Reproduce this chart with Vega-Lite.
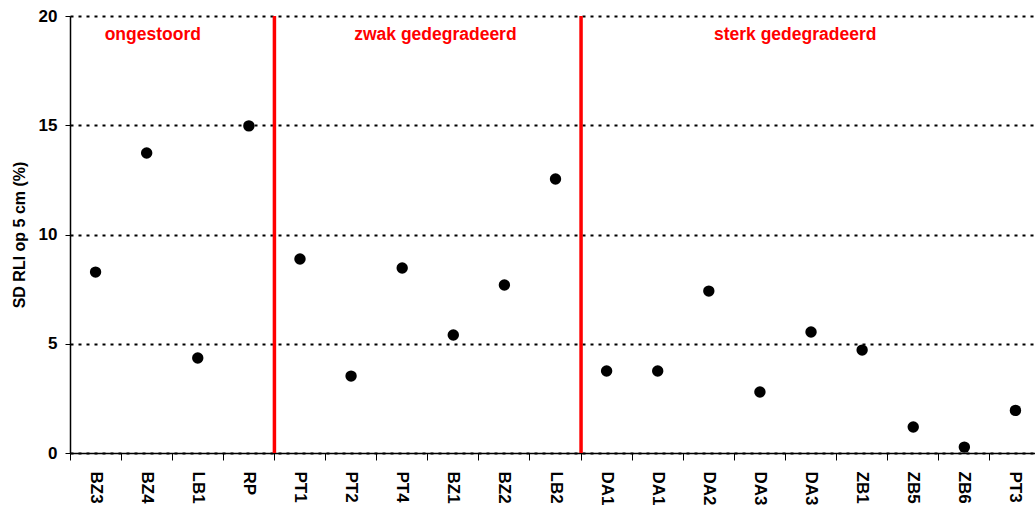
{
  "$schema": "https://vega.github.io/schema/vega-lite/v6.json",
  "autosize": "none",
  "padding": {"left": 70, "top": 16, "right": 0, "bottom": 58},
  "width": 971,
  "height": 437,
  "background": "white",
  "config": {
    "view": {"stroke": null},
    "font": "Liberation Sans"
  },
  "datasets": {
    "points": [
      {"site": "BZ3", "sd": 8.28},
      {"site": "BZ4", "sd": 13.73},
      {"site": "LB1", "sd": 4.35},
      {"site": "RP", "sd": 14.97},
      {"site": "PT1", "sd": 8.88},
      {"site": "PT2", "sd": 3.52},
      {"site": "PT4", "sd": 8.47},
      {"site": "BZ1", "sd": 5.40},
      {"site": "BZ2", "sd": 7.69},
      {"site": "LB2", "sd": 12.54},
      {"site": "DA1a", "sd": 3.75},
      {"site": "DA1b", "sd": 3.75},
      {"site": "DA2", "sd": 7.41},
      {"site": "DA3a", "sd": 2.79},
      {"site": "DA3b", "sd": 5.54},
      {"site": "ZB1", "sd": 4.71},
      {"site": "ZB5", "sd": 1.19},
      {"site": "ZB6", "sd": 0.27},
      {"site": "PT3", "sd": 1.95}
    ],
    "dividers": [
      {"site": "PT1", "lo": 0, "hi": 20},
      {"site": "DA1a", "lo": 0, "hi": 20}
    ],
    "groups": [
      {"site": "BZ4", "name": "ongestoord", "ypos": 18.9},
      {"site": "BZ1", "name": "zwak gedegradeerd", "ypos": 18.9},
      {"site": "DA3b", "name": "sterk gedegradeerd", "ypos": 18.9}
    ]
  },
  "encoding": {
    "x": {
      "field": "site",
      "type": "nominal",
      "scale": {
        "type": "band",
        "paddingInner": 0,
        "paddingOuter": 0,
        "domain": ["BZ3","BZ4","LB1","RP","PT1","PT2","PT4","BZ1","BZ2","LB2","DA1a","DA1b","DA2","DA3a","DA3b","ZB1","ZB5","ZB6","PT3"]
      },
      "axis": {
        "title": null,
        "bandPosition": 0,
        "labelExpr": "substring(datum.label, 0, 3)",
        "labelAngle": 90,
        "labelAlign": "left",
        "labelBaseline": "middle",
        "labelFont": "Liberation Sans",
        "labelFontSize": 17,
        "labelFontWeight": "bold",
        "labelColor": "black",
        "labelPadding": 11,
        "labelOffset": 0,
        "tickSize": 7,
        "tickColor": "black",
        "tickWidth": 1,
        "domainColor": "black",
        "domainWidth": 1.5,
        "grid": false
      }
    }
  },
  "layer": [
    {
      "data": {"name": "points"},
      "mark": {"type": "point", "filled": true, "color": "black", "size": 130, "opacity": 1},
      "encoding": {
        "x": {"field": "site", "type": "nominal", "bandPosition": 0.5},
        "y": {
          "field": "sd",
          "type": "quantitative",
          "scale": {"domain": [0, 20], "nice": false, "zero": true},
          "axis": {
            "title": "SD RLI op 5 cm (%)",
            "titleFont": "Liberation Sans",
            "titleFontSize": 16,
            "titleFontWeight": "bold",
            "titleColor": "black",
            "titlePadding": 11,
            "values": [0, 5, 10, 15, 20],
            "labelFont": "Liberation Sans",
            "labelFontSize": 17,
            "labelFontWeight": "bold",
            "labelColor": "black",
            "labelPadding": 8,
            "tickSize": 5,
            "tickColor": "black",
            "tickWidth": 1,
            "domainColor": "black",
            "domainWidth": 1.5,
            "grid": true,
            "gridColor": "black",
            "gridDash": [3, 5],
            "gridWidth": 2,
            "gridOpacity": 1
          }
        }
      }
    },
    {
      "data": {"name": "dividers"},
      "mark": {"type": "rule", "color": "#ff0000", "strokeWidth": 3.5},
      "encoding": {
        "x": {"field": "site", "type": "nominal", "bandPosition": 0},
        "y": {"field": "lo", "type": "quantitative"},
        "y2": {"field": "hi"}
      }
    },
    {
      "data": {"name": "groups"},
      "transform": [{"filter": "datum.site === 'BZ4'"}],
      "mark": {"type": "text", "color": "#ff0000", "font": "Liberation Sans", "fontSize": 17.5, "fontWeight": "bold", "align": "center", "baseline": "alphabetic"},
      "encoding": {
        "x": {"field": "site", "type": "nominal", "bandPosition": 0.62},
        "y": {"field": "ypos", "type": "quantitative"},
        "text": {"field": "name"}
      }
    },
    {
      "data": {"name": "groups"},
      "transform": [{"filter": "datum.site === 'BZ1'"}],
      "mark": {"type": "text", "color": "#ff0000", "font": "Liberation Sans", "fontSize": 17.5, "fontWeight": "bold", "align": "center", "baseline": "alphabetic"},
      "encoding": {
        "x": {"field": "site", "type": "nominal", "bandPosition": 0.15},
        "y": {"field": "ypos", "type": "quantitative"},
        "text": {"field": "name"}
      }
    },
    {
      "data": {"name": "groups"},
      "transform": [{"filter": "datum.site === 'DA3b'"}],
      "mark": {"type": "text", "color": "#ff0000", "font": "Liberation Sans", "fontSize": 17.5, "fontWeight": "bold", "align": "center", "baseline": "alphabetic"},
      "encoding": {
        "x": {"field": "site", "type": "nominal", "bandPosition": 0.19},
        "y": {"field": "ypos", "type": "quantitative"},
        "text": {"field": "name"}
      }
    }
  ]
}
